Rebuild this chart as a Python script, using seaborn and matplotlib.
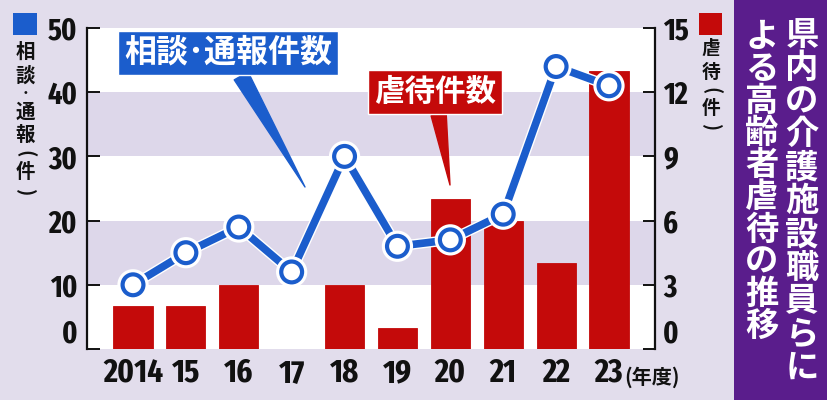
import matplotlib
matplotlib.use('Agg')
import matplotlib.pyplot as plt
import matplotlib.patheffects as pe
from matplotlib import font_manager
from matplotlib.patches import Rectangle
import seaborn as sns
import pandas as pd
import numpy as np

# データ
years = ['2014', '15', '16', '17', '18', '19', '20', '21', '22', '23']
soudan = [10, 15, 19, 12, 30, 16, 17, 21, 44, 41]   # 相談・通報件数 (左軸)
gyakutai = [2, 2, 3, 0, 3, 1, 7, 6, 4, 13]          # 虐待件数 (右軸)

df = pd.DataFrame({'year': years, 'soudan': soudan, 'gyakutai': gyakutai})
df['pos'] = np.arange(len(df))

# 色
BG = '#e2ddec'
BAND = '#ddd7ea'
BLUE = '#1b5dcc'
RED = '#c40a0a'
PURPLE = '#5a1d8c'
INK = '#111111'

sns.set_theme(style='white')
plt.rcParams['font.family'] = ['Noto Sans CJK JP', 'DejaVu Sans']


# 数字用の細いフォントを探す
def pick_num_font():
    best = None
    for f in font_manager.fontManager.ttflist:
        fn = f.fname.replace('-', '').replace('_', '').lower()
        if 'italic' in fn or 'oblique' in fn or 'mono' in fn or 'serif' in fn and 'sans' not in fn:
            continue
        if 'bold' not in fn or 'semibold' in fn or 'extrabold' in fn:
            continue
        if 'extracondensed' in fn:
            rank = 0
        elif 'semicondensed' in fn:
            rank = 2
        elif 'condensed' in fn or 'narrow' in fn:
            rank = 1
        else:
            continue
        if best is None or rank < best[0]:
            best = (rank, f.fname)
    if best is None:
        return font_manager.FontProperties(family='Liberation Sans', weight='bold'), 3
    return font_manager.FontProperties(fname=best[1]), best[0]


NUMFP, RANK = pick_num_font()
XSIZE = {0: 24, 1: 22, 2: 20}.get(RANK, 17)
YSIZE = {0: 22, 1: 20, 2: 19}.get(RANK, 16)

W, H = 827, 400
fig = plt.figure(figsize=(W / 100, H / 100), dpi=100, facecolor=BG)


def px(x, y):
    return x / W, 1 - y / H


x0, x1, y0, y1 = 87, 655, 28, 349
ax = fig.add_axes([x0 / W, 1 - y1 / H, (x1 - x0) / W, (y1 - y0) / H])
ax.set_facecolor('white')

# 帯
for lo, hi in [(3, 6), (9, 12)]:
    ax.axhspan(lo, hi, color=BAND, zorder=0, lw=0)

# 棒グラフ (虐待件数)
sns.barplot(data=df, x='pos', y='gyakutai', color=RED, width=0.74,
            saturation=1, ax=ax, zorder=2, edgecolor=RED, linewidth=0.6)
ax.set_ylim(0, 15)
ax.set_xlim(-0.87, 9.87)

# 折れ線 (相談・通報件数)
ax2 = ax.twinx()
sns.lineplot(data=df, x='pos', y='soudan', ax=ax2, color=BLUE, lw=5.5,
             marker='o', markersize=15, markerfacecolor='white',
             markeredgecolor=BLUE, markeredgewidth=3, zorder=3,
             path_effects=[pe.Stroke(linewidth=7.5, foreground='white'), pe.Normal()])
ax2.set_ylim(0, 50)
ax2.set_xlim(-0.87, 9.87)

# 軸
ax.yaxis.tick_right()
ax2.yaxis.tick_left()
ax.set_yticks(range(0, 16, 3))
ax2.set_yticks(range(0, 51, 10))
ax.set_xticks(df['pos'])
ax.set_xticklabels(years)
for a in (ax, ax2):
    a.set_xlabel('')
    a.set_ylabel('')
    a.grid(False)
    for s in a.spines.values():
        s.set_visible(False)
ax.spines['right'].set_visible(True)
ax2.spines['left'].set_visible(True)
for s in (ax.spines['right'], ax2.spines['left']):
    s.set_color(INK)
    s.set_linewidth(1.6)

ax.tick_params(axis='y', direction='in', length=9, width=1.4, color=INK, pad=6,
               right=True, left=False)
ax2.tick_params(axis='y', direction='in', length=9, width=1.4, color=INK, pad=7,
                left=True, right=False)
ax.tick_params(axis='x', length=0, pad=6)
ax2.tick_params(axis='x', bottom=False, labelbottom=False)

for lab in ax.get_yticklabels() + ax2.get_yticklabels():
    lab.set_fontproperties(NUMFP)
    lab.set_fontsize(YSIZE)
    lab.set_color(INK)
for lab in ax.get_xticklabels():
    lab.set_fontproperties(NUMFP)
    lab.set_fontsize(XSIZE)
    lab.set_color(INK)
ax.get_yticklabels()[0].set_va('bottom')
ax2.get_yticklabels()[0].set_va('bottom')

fig.text(*px(624, 377), '(年度)', ha='left', va='center', fontsize=14.5,
         weight='bold', color=INK)

# 吹き出し
ax.annotate('相談･通報件数', xy=px(305, 187), xycoords='figure fraction',
            xytext=px(228, 53), textcoords='figure fraction',
            ha='center', va='center', fontsize=23, weight='bold', color='white',
            bbox=dict(boxstyle='square,pad=0.2', fc=BLUE, ec='white', lw=1),
            arrowprops=dict(arrowstyle='wedge,tail_width=0.5', fc=BLUE, ec=BLUE,
                            shrinkA=0, shrinkB=0), zorder=5)
ax.annotate('虐待件数', xy=px(450, 185), xycoords='figure fraction',
            xytext=px(435, 92), textcoords='figure fraction',
            ha='center', va='center', fontsize=22, weight='bold', color='white',
            bbox=dict(boxstyle='square,pad=0.2', fc=RED, ec='white', lw=1),
            arrowprops=dict(arrowstyle='wedge,tail_width=0.5', fc=RED, ec=RED,
                            shrinkA=0, shrinkB=0), zorder=5)


def vtext(s, x, ys, fontsize, **kw):
    # 縦書き: 括弧は回転、中点は小さく
    for ch, y in zip(s, ys):
        if ch in '()':
            fig.text(*px(x, y), ch, ha='center', va='center', rotation=-90,
                     fontsize=fontsize, **kw)
        elif ch == '・':
            fig.text(*px(x, y), ch, ha='center', va='center',
                     fontsize=fontsize * 0.6, **kw)
        else:
            fig.text(*px(x, y), ch, ha='center', va='center', fontsize=fontsize, **kw)


# 軸ラベル
fig.patches.append(Rectangle(px(13, 35), 24 / W, 22 / H, transform=fig.transFigure,
                             fc=BLUE, ec='none'))
vtext('相談・通報(件)', 25, [52, 76, 94, 112, 135, 154, 172, 193], 14,
      weight='bold', color=INK)
fig.patches.append(Rectangle(px(699, 35), 23 / W, 22 / H, transform=fig.transFigure,
                             fc=RED, ec='none'))
vtext('虐待(件)', 711, [48, 72, 91, 108, 127], 13.5, weight='bold', color=INK)

# タイトル
fig.patches.append(Rectangle(px(734, 400), (W - 734) / W, 1, transform=fig.transFigure,
                             fc=PURPLE, ec='none'))
title_r = '県内の介護施設職員らに'
title_l = 'よる高齢者虐待の推移'
vtext(title_r, 802, [35 + i * 33.3 for i in range(len(title_r))], 24,
      weight='bold', color='white')
vtext(title_l, 762, [37 + i * 32.2 for i in range(len(title_l))], 24,
      weight='bold', color='white')

fig.savefig('out.png', dpi=100, facecolor=BG)
